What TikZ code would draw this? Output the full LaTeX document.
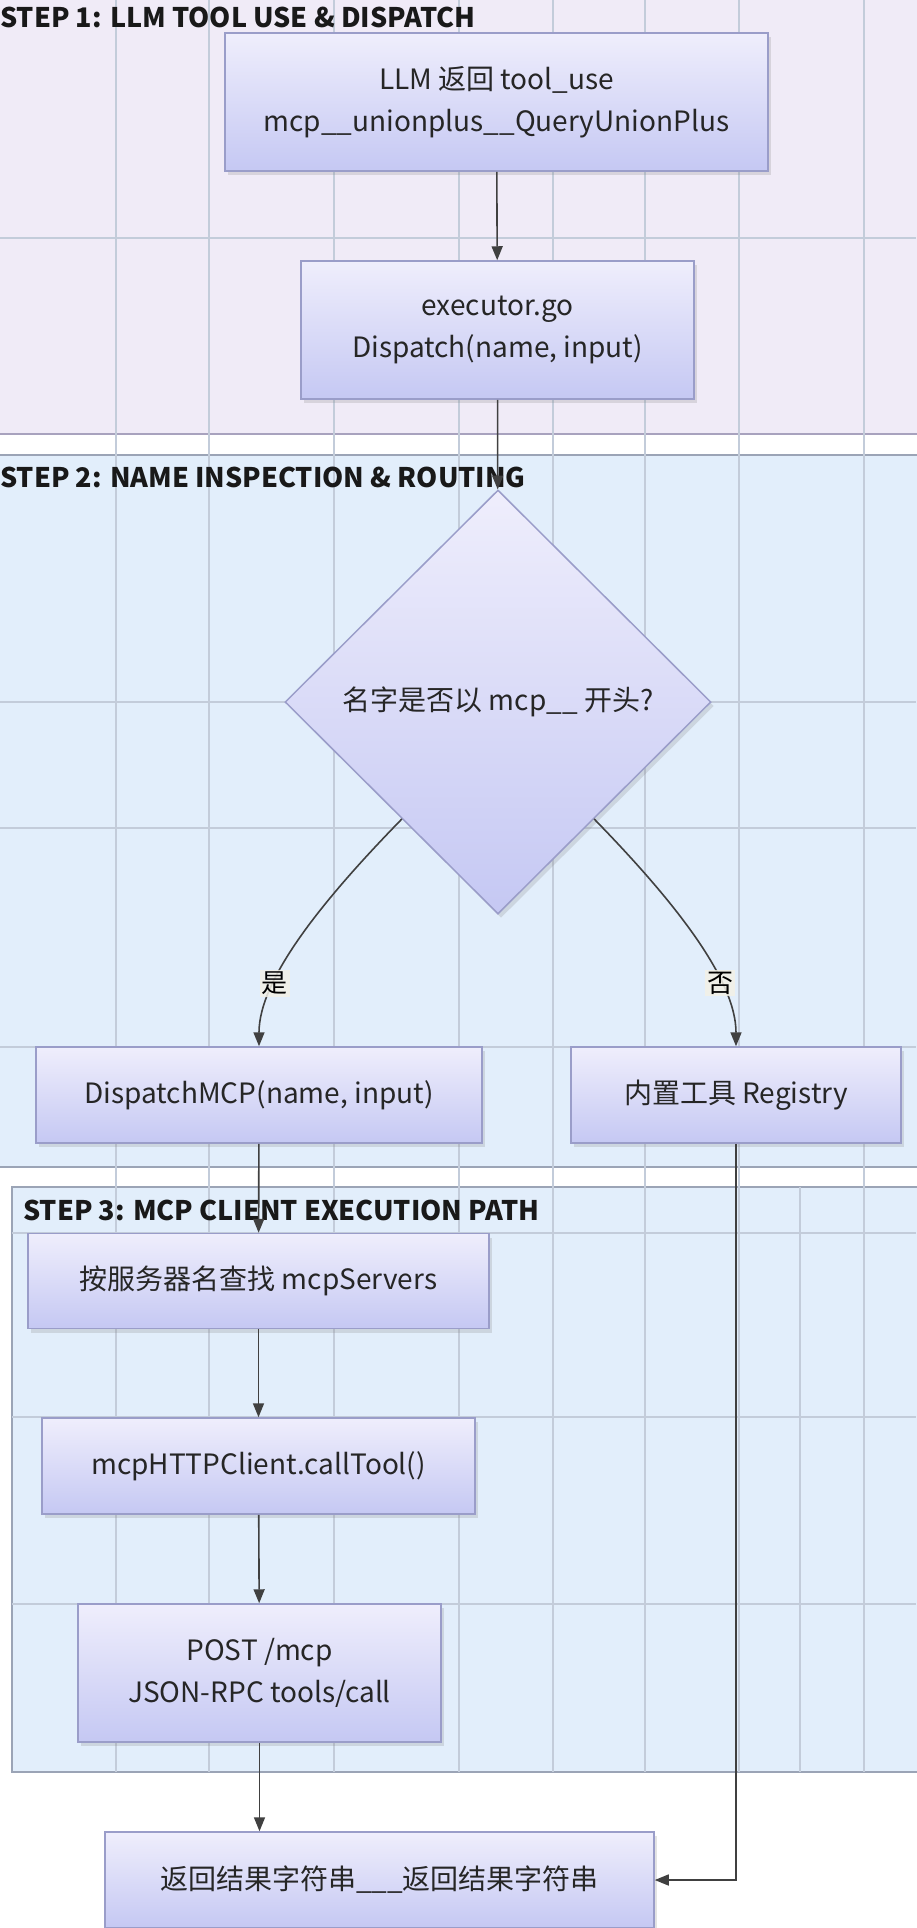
\documentclass[tikz,border=0pt]{standalone}
\usepackage{fontspec}
\setmainfont{Noto Sans CJK SC}
\usepackage{tikz}
\usetikzlibrary{arrows.meta,positioning,calc,shapes.geometric,shadows}
\definecolor{laneA}{HTML}{F0EBF7}
\definecolor{laneB}{HTML}{E2EEFB}
\definecolor{laneAline}{HTML}{A8A2BE}
\definecolor{laneBline}{HTML}{9BA4B6}
\definecolor{gridc}{HTML}{C3CCDA}
\definecolor{nodetop}{HTML}{EFEEFC}
\definecolor{nodebot}{HTML}{C5C8F3}
\definecolor{nodeline}{HTML}{9A9DC9}
\definecolor{edgec}{HTML}{404040}
\definecolor{labelbg}{HTML}{F3F1E6}

\begin{document}
\begin{tikzpicture}[x=1pt, y=-1pt,
  box/.style={draw=nodeline, line width=1.5pt, top color=nodetop,
    bottom color=nodebot, inner sep=0pt, align=center, text=black!85,
    drop shadow={shadow xshift=3pt, shadow yshift=-4pt, opacity=0.22},
    font=\fontsize{28}{42}\selectfont},
  decision/.style={box, diamond, aspect=1},
  lane/.style={line width=2pt},
  gridline/.style={draw=gridc, line width=1.2pt},
  title/.style={anchor=west, inner sep=0pt, text=black!90,
    font=\bfseries\fontsize{27}{32}\selectfont},
  lbl/.style={fill=labelbg, fill opacity=0.85, text opacity=1, inner sep=2pt,
    font=\fontsize{26}{30}\selectfont},
  flow/.style={draw=edgec, line width=1.6pt,
    -{Triangle[length=14pt,width=11pt]}}
]
\useasboundingbox (0,0) rectangle (916,1928);
\fill[white] (0,0) rectangle (916,1928);

% lanes
\draw[lane, draw=laneAline, fill=laneA] (-10,-10) rectangle (926,434);
\draw[lane, draw=laneBline, fill=laneB] (-10,455) rectangle (926,1167);
\draw[lane, draw=laneBline, fill=laneB] (12,1187) rectangle (926,1772);

% background grid
\foreach \gx in {116,209,334,459,553,645,739,864}
  \draw[gridline] (\gx,0) -- (\gx,1772);
\draw[gridline] (800,1187) -- (800,1772);
\foreach \gy in {238,702,828,1047}
  \draw[gridline] (0,\gy) -- (916,\gy);
\foreach \gy in {1233,1417,1604}
  \draw[gridline] (12,\gy) -- (916,\gy);

% lane titles
\node[title] (t1) at (0,17) {STEP 1: LLM TOOL USE \& DISPATCH};
\node[title] (t2) at (0,477) {STEP 2: NAME INSPECTION \& ROUTING};
\node[title] (t3) at (23,1210) {STEP 3: MCP CLIENT EXECUTION PATH};

% step 1
\node[box, minimum width=543, minimum height=138] (llm) at (496.5,102)
  {LLM 返回 tool\_use\\mcp\_\_unionplus\_\_QueryUnionPlus};
\node[box, minimum width=393, minimum height=138] (exec) at (497.5,330)
  {executor.go\\Dispatch(name, input)};

% step 2
\node[decision, minimum width=426, minimum height=424] (decide) at (498,702)
  {名字是否以 mcp\_\_ 开头?};
\node[box, minimum width=446, minimum height=96] (mcp) at (259,1095)
  {DispatchMCP(name, input)};
\node[box, minimum width=330, minimum height=96] (reg) at (736,1095)
  {内置工具 Registry};

% step 3
\node[box, minimum width=461, minimum height=95] (lookup) at (258.5,1281)
  {按服务器名查找 mcpServers};
\node[box, minimum width=433, minimum height=96] (http) at (258.5,1466)
  {mcpHTTPClient.callTool()};
\node[box, minimum width=363, minimum height=138] (post) at (259.5,1673)
  {POST /mcp\\JSON-RPC tools/call};

% result
\node[box, minimum width=549, minimum height=96] (result) at (379.5,1880)
  {返回结果字符串\_\_\_返回结果字符串};

% connectors
\draw[flow] (llm) -- (exec);
\draw[flow] (exec) -- (decide);
\draw[flow] ($(decide.west)!0.55!(decide.south)$) .. controls +(-80,82) and +(0,-67)
  .. node[lbl, pos=0.7]{是} (mcp.north);
\draw[flow] ($(decide.east)!0.55!(decide.south)$) .. controls +(80,82) and +(0,-67)
  .. node[lbl, pos=0.7]{否} (reg.north);
\draw[flow] (mcp) -- (lookup);
\draw[flow] (lookup) -- (http);
\draw[flow] (http) -- (post);
\draw[flow] (post) -- (post |- result.north);
\draw[flow] (reg) |- (result);
\end{tikzpicture}
\end{document}
